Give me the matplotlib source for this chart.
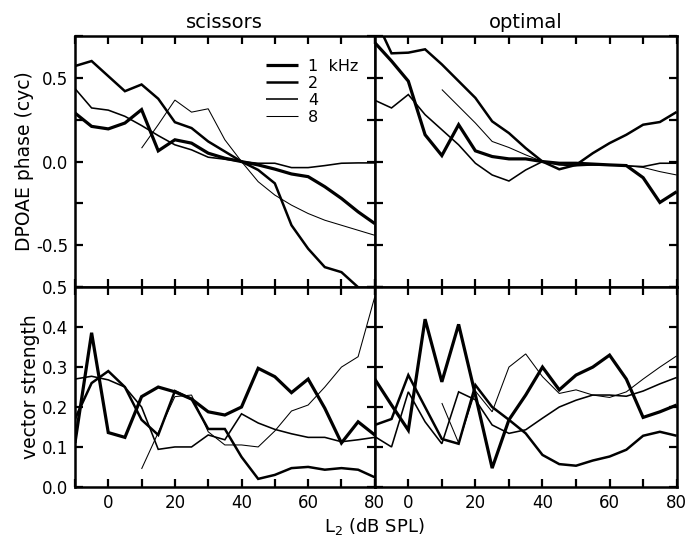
import matplotlib
matplotlib.use('Agg')
import matplotlib.pyplot as plt

# stimulus levels L2 (dB SPL)
levels = [-10, -5, 0, 5, 10, 15, 20, 25, 30, 35, 40, 45, 50, 55, 60, 65, 70, 75, 80]
# 8 kHz starts at 10 dB
levels_8k = [10, 15, 20, 25, 30, 35, 40, 45, 50, 55, 60, 65, 70, 75, 80]

freq_labels = ['1  kHz', '2', '4', '8']

# scissors - DPOAE phase (cyc)
sc_phase_1k = [0.29, 0.21, 0.195, 0.23, 0.31, 0.064, 0.13, 0.11, 0.05, 0.02, 0.0,
               -0.02, -0.045, -0.074, -0.09, -0.15, -0.22, -0.30, -0.37]
sc_phase_2k = [0.57, 0.60, 0.51, 0.42, 0.46, 0.375, 0.235, 0.20, 0.12, 0.06, 0.0,
               -0.05, -0.13, -0.38, -0.52, -0.63, -0.66, -0.75, -0.85]
sc_phase_4k = [0.436, 0.32, 0.307, 0.27, 0.215, 0.155, 0.10, 0.07, 0.026, 0.014, 0.0,
               -0.01, -0.01, -0.036, -0.036, -0.024, -0.01, -0.008, -0.008]
sc_phase_8k = [0.08, 0.22, 0.367, 0.295, 0.315, 0.13, 0.0,
               -0.12, -0.20, -0.26, -0.31, -0.35, -0.38, -0.41, -0.44]

# optimal - DPOAE phase (cyc)
op_phase_1k = [0.71, 0.60, 0.48, 0.16, 0.036, 0.22, 0.064, 0.03, 0.016, 0.016, 0.0,
               -0.01, -0.01, -0.015, -0.02, -0.024, -0.096, -0.244, -0.18]
op_phase_2k = [0.86, 0.646, 0.65, 0.67, 0.58, 0.48, 0.38, 0.24, 0.17, 0.08, 0.0,
               -0.046, -0.02, 0.05, 0.11, 0.16, 0.22, 0.236, 0.296]
op_phase_4k = [0.366, 0.32, 0.40, 0.28, 0.19, 0.10, -0.01, -0.08, -0.116, -0.05, 0.0,
               -0.02, -0.025, -0.02, -0.02, -0.025, -0.03, -0.01, -0.01]
op_phase_8k = [0.43, 0.33, 0.23, 0.12, 0.084, 0.04, 0.0,
               -0.01, -0.02, -0.02, -0.02, -0.025, -0.035, -0.06, -0.08]

# scissors - vector strength
sc_vs_1k = [0.11, 0.386, 0.136, 0.124, 0.226, 0.25, 0.238, 0.22, 0.188, 0.18, 0.20,
            0.297, 0.276, 0.236, 0.27, 0.197, 0.11, 0.163, 0.13]
sc_vs_2k = [0.17, 0.26, 0.29, 0.25, 0.168, 0.13, 0.24, 0.22, 0.145, 0.145, 0.075,
            0.02, 0.03, 0.047, 0.05, 0.043, 0.047, 0.043, 0.024]
sc_vs_4k = [0.27, 0.277, 0.268, 0.25, 0.20, 0.094, 0.10, 0.10, 0.13, 0.118, 0.183,
            0.16, 0.144, 0.133, 0.124, 0.124, 0.113, 0.118, 0.124]
sc_vs_8k = [0.045, 0.136, 0.226, 0.23, 0.138, 0.105, 0.105,
            0.10, 0.14, 0.19, 0.205, 0.25, 0.30, 0.326, 0.476]

# optimal - vector strength
op_vs_1k = [0.27, 0.205, 0.142, 0.42, 0.263, 0.407, 0.23, 0.047, 0.168, 0.23, 0.30,
            0.243, 0.28, 0.30, 0.33, 0.27, 0.174, 0.188, 0.205]
op_vs_2k = [0.155, 0.17, 0.28, 0.20, 0.12, 0.108, 0.255, 0.20, 0.168, 0.134, 0.08,
            0.057, 0.053, 0.066, 0.076, 0.093, 0.128, 0.138, 0.128]
op_vs_4k = [0.126, 0.10, 0.238, 0.163, 0.108, 0.238, 0.218, 0.155, 0.134, 0.143, 0.172,
            0.20, 0.217, 0.23, 0.23, 0.227, 0.24, 0.258, 0.274]
op_vs_8k = [0.21, 0.11, 0.24, 0.188, 0.30, 0.333, 0.276,
            0.234, 0.243, 0.23, 0.224, 0.238, 0.27, 0.30, 0.328]

widths = [2.3, 1.8, 1.15, 0.75]


def draw(ax, series):
    lines = []
    for (x, y), lw, lab in zip(series, widths, freq_labels):
        ln, = ax.plot(x, y, color='black', lw=lw, label=lab,
                      solid_joinstyle='miter', solid_capstyle='butt')
        lines.append(ln)
    return lines


def style(ax, ylim, yticks, ylabels, show_x, show_y):
    ax.set_xlim(-10, 80)
    ax.set_ylim(*ylim)
    ax.set_xticks(range(-10, 81, 10))
    if show_x:
        ax.set_xticklabels(['' if t % 20 else str(t) for t in range(-10, 81, 10)])
    else:
        ax.set_xticklabels([])
    ax.set_yticks(yticks)
    if show_y:
        ax.set_yticklabels(ylabels)
    else:
        ax.set_yticklabels([])
    ax.tick_params(direction='in', length=6, width=1.6, top=True, right=True,
                   labelsize=12, pad=5)
    for sp in ax.spines.values():
        sp.set_linewidth(1.8)


fig = plt.figure(figsize=(6.94, 5.44), dpi=100)

ax_tl = fig.add_axes([0.108, 0.472, 0.432, 0.462])
ax_tr = fig.add_axes([0.540, 0.472, 0.435, 0.462])
ax_bl = fig.add_axes([0.108, 0.105, 0.432, 0.367])
ax_br = fig.add_axes([0.540, 0.105, 0.435, 0.367])

phase_ticks = [-0.75, -0.5, -0.25, 0.0, 0.25, 0.5, 0.75]
phase_labels = ['', '-0.5', '', '0.0', '', '0.5', '']
vs_ticks = [0.0, 0.1, 0.2, 0.3, 0.4, 0.5]
vs_labels = ['0.0', '0.1', '0.2', '0.3', '0.4', '0.5']

handles = draw(ax_tl, [(levels, sc_phase_1k), (levels, sc_phase_2k),
                       (levels, sc_phase_4k), (levels_8k, sc_phase_8k)])
draw(ax_tr, [(levels, op_phase_1k), (levels, op_phase_2k),
             (levels, op_phase_4k), (levels_8k, op_phase_8k)])
draw(ax_bl, [(levels, sc_vs_1k), (levels, sc_vs_2k),
             (levels, sc_vs_4k), (levels_8k, sc_vs_8k)])
draw(ax_br, [(levels, op_vs_1k), (levels, op_vs_2k),
             (levels, op_vs_4k), (levels_8k, op_vs_8k)])

style(ax_tl, (-0.75, 0.75), phase_ticks, phase_labels, False, True)
style(ax_tr, (-0.75, 0.75), phase_ticks, phase_labels, False, False)
style(ax_bl, (0.0, 0.5), vs_ticks, vs_labels, True, True)
style(ax_br, (0.0, 0.5), vs_ticks, vs_labels, True, False)

ax_tl.set_title('scissors', fontsize=14, pad=6)
ax_tr.set_title('optimal', fontsize=14, pad=6)
ax_tl.set_ylabel('DPOAE phase (cyc)', fontsize=13.5, labelpad=1)
ax_bl.set_ylabel('vector strength', fontsize=13.5, labelpad=1)
fig.text(0.54, 0.033, 'L$_2$ (dB SPL)', ha='center', va='center', fontsize=13)

ax_tl.legend(handles=handles, frameon=False, loc='upper left',
             bbox_to_anchor=(0.61, 0.94), handlelength=2.0, handletextpad=0.65,
             labelspacing=0.12, fontsize=11.5, borderpad=0)

fig.savefig('out.png', dpi=100)
